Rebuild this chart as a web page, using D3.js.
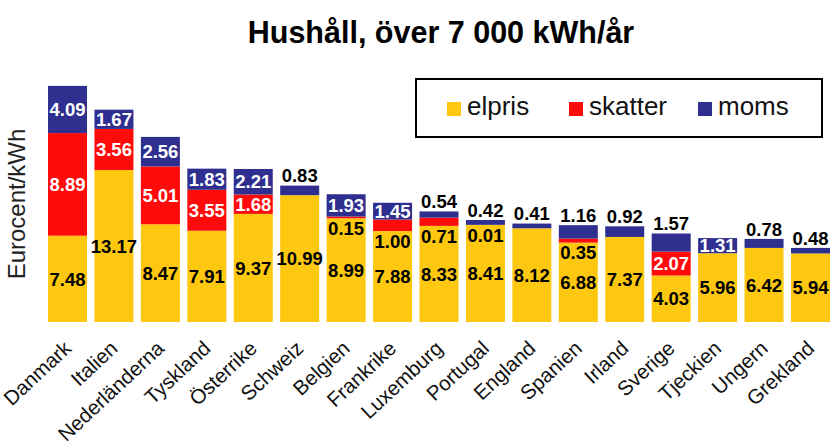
<!DOCTYPE html>
<html>
<head>
<meta charset="utf-8">
<script src="https://cdn.jsdelivr.net/npm/d3@7"></script>
<style>
	body { margin: 0; background: #fff; }
	svg { display: block; font-family: "Liberation Sans", Arial, Helvetica, sans-serif; }
</style>
</head>
<body>
<div id="chart"></div>
<script>
// data
const countries = ['Danmark','Italien','Nederländerna','Tyskland','Österrike','Schweiz','Belgien','Frankrike','Luxemburg','Portugal','England','Spanien','Irland','Sverige','Tjeckien','Ungern','Grekland'];
const elpris  = [7.48, 13.17, 8.47, 7.91, 9.37, 10.99, 8.99, 7.88, 8.33, 8.41, 8.12, 6.88, 7.37, 4.03, 5.96, 6.42, 5.94];
const skatter = [8.89, 3.56, 5.01, 3.55, 1.68, 0, 0.15, 1.00, 0.71, 0.01, 0, 0.35, 0, 2.07, 0, 0, 0];
const moms    = [4.09, 1.67, 2.56, 1.83, 2.21, 0.83, 1.93, 1.45, 0.54, 0.42, 0.41, 1.16, 0.92, 1.57, 1.31, 0.78, 0.48];
const seriesNames = ['elpris', 'skatter', 'moms'];

// moms labels that sit above the bar instead of inside
const momsAbove = ['Schweiz','Luxemburg','Portugal','England','Spanien','Irland','Sverige','Ungern','Grekland'];

const colors = { elpris: '#fdc80f', skatter: '#ff0b0b', moms: '#2e2f8f' };
const w = 830, h = 447;
const fmt = d3.format('.2f');

let svg = d3.select('#chart').append('svg')
	.attr('width', w)
	.attr('height', h)
	.attr('viewBox', '0 0 ' + w + ' ' + h);

const x = d3.scaleBand()
	.domain(countries)
	.range([44.3, 833.7])
	.paddingInner(0.16)
	.paddingOuter(0.08);

const y = d3.scaleLinear()
	.domain([0, 20])
	.range([322, 91.2]);

const rows = countries.map(function(c, i) {
	return { country: c, elpris: elpris[i], skatter: skatter[i], moms: moms[i] };
});

const stack = d3.stack().keys(seriesNames);
const layers = stack(rows);

// bars
svg.append('g').attr('class', 'bars')
	.selectAll('g')
	.data(layers)
	.enter()
	.append('g')
	.attr('fill', function(d) { return colors[d.key] })
	.selectAll('rect')
	.data(function(d) { return d.filter(function(s) { return s[1] - s[0] > 0 }) })
	.enter()
	.append('rect')
	.attr('x', function(d) { return x(d.data.country) })
	.attr('width', x.bandwidth())
	.attr('y', function(d) { return y(d[1]) })
	.attr('height', function(d) { return y(d[0]) - y(d[1]) });

// value labels
let labels = [];
layers.forEach(function(layer) {
	layer.forEach(function(s) {
		let v = s.data[layer.key];
		if (v <= 0) return;
		let cx = x(s.data.country) + x.bandwidth() / 2;
		let cy = (y(s[0]) + y(s[1])) / 2;
		let fill = '#000';
		if (layer.key == 'skatter') {
			if (v >= 1.5) fill = '#fff';
			else cy = y(s[0]) + 10; // put under the red part, on the yellow
		}
		if (layer.key == 'moms') {
			if (momsAbove.indexOf(s.data.country) >= 0) cy = y(s[1]) - 10;
			else fill = '#fff';
		}
		labels.push({ text: fmt(v), x: cx, y: cy, fill: fill });
	});
});

svg.append('g').attr('class', 'labels')
	.selectAll('text')
	.data(labels)
	.enter()
	.append('text')
	.attr('x', function(d) { return d.x })
	.attr('y', function(d) { return d.y })
	.attr('dy', '0.36em')
	.attr('text-anchor', 'middle')
	.attr('font-size', 18.5)
	.attr('font-weight', 'bold')
	.attr('fill', function(d) { return d.fill })
	.text(function(d) { return d.text });

// x axis labels (no line, no ticks)
let xAxis = svg.append('g')
	.call(d3.axisBottom(x).tickSize(0).tickPadding(0));
xAxis.select('.domain').remove();
xAxis.selectAll('.tick').attr('transform', function(d) {
	return 'translate(' + (x(d) + x.bandwidth() / 2 + 5) + ',350)';
});
xAxis.selectAll('.tick text')
	.attr('y', 0)
	.attr('dy', 0)
	.attr('transform', 'rotate(-43)')
	.attr('text-anchor', 'end')
	.attr('font-size', 20.5)
	.attr('font-family', '"Liberation Sans", Arial, sans-serif')
	.attr('fill', '#111');

// y axis title
svg.append('text')
	.attr('transform', 'translate(25,204) rotate(-90)')
	.attr('text-anchor', 'middle')
	.attr('font-size', 24)
	.attr('fill', '#222')
	.text('Eurocent/kWh');

// title
svg.append('text')
	.attr('x', 441)
	.attr('y', 43)
	.attr('text-anchor', 'middle')
	.attr('font-size', 30.5)
	.attr('font-weight', 'bold')
	.attr('fill', '#000')
	.text('Hushåll, över 7 000 kWh/år');

// legend
let legend = svg.append('g').attr('class', 'legend');
legend.append('rect')
	.attr('x', 416).attr('y', 79)
	.attr('width', 406).attr('height', 58)
	.attr('fill', '#fff')
	.attr('stroke', '#000')
	.attr('stroke-width', 2);

const legendX = [447, 569, 698];
let items = legend.selectAll('g.item')
	.data(seriesNames)
	.enter()
	.append('g')
	.attr('class', 'item')
	.attr('transform', function(d, i) { return 'translate(' + legendX[i] + ',0)' });
items.append('rect')
	.attr('x', 0).attr('y', 102)
	.attr('width', 14).attr('height', 14)
	.attr('fill', function(d) { return colors[d] });
items.append('text')
	.attr('x', 20).attr('y', 115)
	.attr('font-size', 26)
	.attr('fill', '#111')
	.text(function(d) { return d });
</script>
</body>
</html>
